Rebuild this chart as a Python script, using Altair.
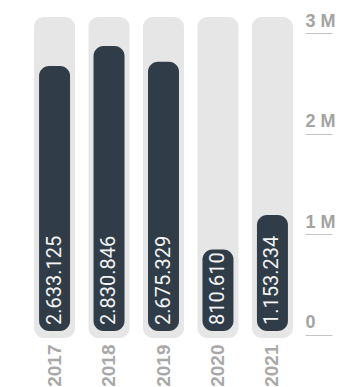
import altair as alt
import pandas as pd

# Annual totals, 2017-2021
years = ["2017", "2018", "2019", "2020", "2021"]
totals = [2633125, 2830846, 2675329, 810610, 1153234]
tick_values = [0, 1_000_000, 2_000_000, 3_000_000]

# extent of the light "track" drawn behind each bar (data units)
TRACK_LO, TRACK_HI = -70_000, 3_120_000

df = pd.DataFrame({"year": years, "total": totals})
df["label"] = [f"{v:,}".replace(",", ".") for v in totals]

x_enc = alt.X(
    "year:N",
    sort=years,
    scale=alt.Scale(paddingInner=0.246, paddingOuter=0.129),
    axis=alt.Axis(
        title=None,
        labelAngle=-90,
        ticks=False,
        domain=False,
        labelPadding=6,
        labelFont="Liberation Sans",
        labelFontWeight="bold",
        labelFontSize=19,
        labelColor="#a8a8a8",
    ),
)

y_scale = alt.Scale(domain=[TRACK_LO, TRACK_HI], nice=False, zero=False)
y_axis = alt.Axis(
    orient="right",
    title=None,
    values=tick_values,
    labelExpr="datum.value == 0 ? '0' : format(datum.value / 1000000, 'd') + ' M'",
    domain=False,
    grid=False,
    offset=5,
    tickSize=27,
    tickWidth=1,
    tickColor="#c4c4c4",
    tickOffset=4,
    labelAlign="left",
    labelBaseline="bottom",
    labelPadding=-27,
    labelOffset=-3,
    labelFont="Liberation Sans",
    labelFontWeight="bold",
    labelFontSize=18,
    labelColor="#a3a3a3",
)

base = alt.Chart(df).transform_calculate(
    lo=str(TRACK_LO), hi=str(TRACK_HI), zero="0"
)

track = base.mark_bar(width=41, cornerRadius=10, color="#e6e6e6").encode(
    x=x_enc,
    y=alt.Y("hi:Q", scale=y_scale, axis=y_axis),
    y2="lo:Q",
)

bars = base.mark_bar(width=31, cornerRadius=10, color="#303d48").encode(
    x=x_enc,
    y=alt.Y("total:Q", scale=y_scale, axis=y_axis),
    y2="zero:Q",
)

labels = base.mark_text(
    angle=270,
    align="left",
    baseline="middle",
    dx=6,
    font="Roboto",
    fontSize=20,
    color="#f4f4f4",
).encode(
    x=x_enc,
    y=alt.Y("zero:Q", scale=y_scale, axis=y_axis),
    text="label:N",
)

chart = (
    alt.layer(track, bars, labels)
    .properties(
        width=273,
        height=321,
        padding={"left": 27, "top": 12, "right": 0, "bottom": 0},
        background="white",
    )
    .configure_view(stroke=None)
)

chart.save("out.html", embed_options={"renderer": "svg", "actions": False})
